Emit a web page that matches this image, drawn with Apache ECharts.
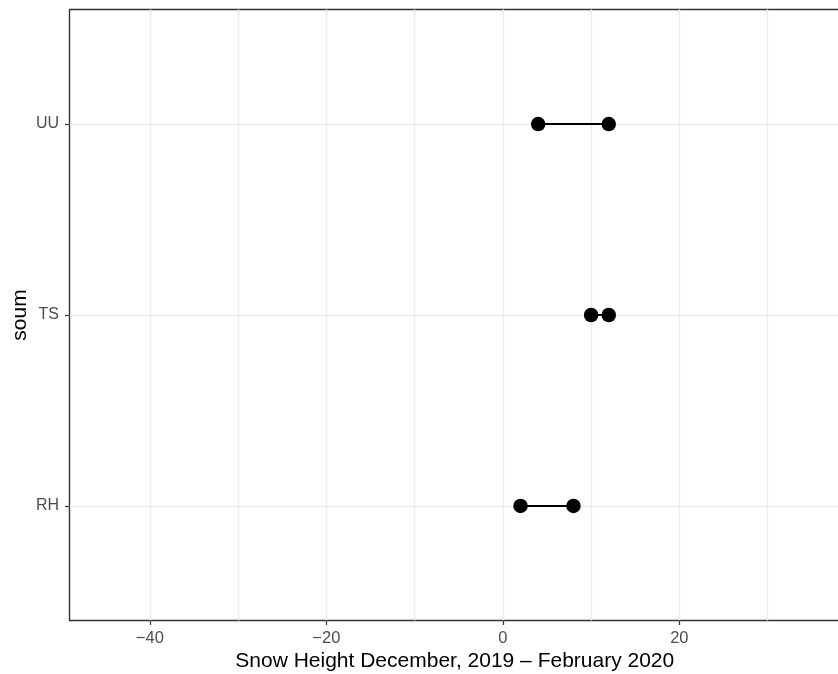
<!DOCTYPE html>
<html>
<head>
<meta charset="utf-8">
<script src="https://cdn.jsdelivr.net/npm/echarts@6/dist/echarts.min.js"></script>
<style>
  html, body { margin: 0; padding: 0; background: #fff; }
  #chart { width: 838px; height: 674px; }
</style>
</head>
<body>
<div id="chart"></div>
<script>
// Snow height range per soum (cm), December 2019 – February 2020
const soums = ['RH', 'TS', 'UU'];
const fromValues = [2, 10, 4];
const toValues = [8, 12, 12];

// Axis ticks
const xMajorTicks = [-40, -20, 0, 20];
const xMinorTicks = [-30, -10, 10, 30];
const yTicks = [1, 2, 3];

const minus = v => String(v).replace('-', '\u2212');
const gridColor = '#ebebeb';
const fontFamily = '"Liberation Sans", Arial, Helvetica, sans-serif';

// One segment per soum, joining its two values
const segmentSeries = soums.map((name, i) => ({
  type: 'line',
  name: name,
  xAxisIndex: 0,
  data: [[fromValues[i], i + 1], [toValues[i], i + 1]],
  symbol: 'none',
  lineStyle: { color: '#000', width: 2 },
  silent: true,
  z: 3
}));

const pointData = [];
soums.forEach((name, i) => {
  pointData.push([fromValues[i], i + 1]);
  pointData.push([toValues[i], i + 1]);
});

const chart = echarts.init(document.getElementById('chart'), null, { renderer: 'canvas' });
chart.setOption({
  animation: false,
  backgroundColor: '#fff',
  grid: {
    left: 69.5, top: 9.5, bottom: 53.5, right: -2,
    show: true, borderColor: '#333333', borderWidth: 1.4,
    containLabel: false,
    outerBoundsMode: 'none'
  },
  xAxis: [{
    type: 'value', min: -49.1, max: 38.2,
    name: 'Snow Height December, 2019 \u2013 February 2020',
    nameLocation: 'middle', nameGap: 30.5, nameMoveOverlap: false,
    nameTextStyle: { color: '#000', fontSize: 21, fontFamily: fontFamily },
    axisLine: { show: false, onZero: false },
    axisTick: { show: true, length: 4.5, customValues: xMajorTicks, lineStyle: { color: '#333333', width: 1.2 } },
    axisLabel: { customValues: xMajorTicks, formatter: v => minus(v), color: '#4d4d4d', fontSize: 16.5, margin: 9, fontFamily: fontFamily },
    splitLine: { show: true, lineStyle: { color: gridColor, width: 1.4 } }
  }, {
    type: 'value', min: -49.1, max: 38.2,
    axisLine: { show: false, onZero: false },
    axisTick: { show: false, customValues: xMinorTicks },
    axisLabel: { show: false, customValues: xMinorTicks },
    splitLine: { show: true, lineStyle: { color: gridColor, width: 1.4 } }
  }],
  yAxis: {
    type: 'value', min: 0.4, max: 3.6,
    name: 'soum', nameLocation: 'middle', nameGap: 39, nameRotate: 90, nameMoveOverlap: false,
    nameTextStyle: { color: '#000', fontSize: 21, fontFamily: fontFamily },
    axisLine: { show: false, onZero: false },
    axisTick: { show: true, length: 4.5, customValues: yTicks, lineStyle: { color: '#333333', width: 1.2 } },
    axisLabel: { customValues: yTicks, formatter: v => soums[Math.round(v) - 1], color: '#4d4d4d', fontSize: 16, margin: 10.5, fontFamily: fontFamily },
    splitLine: { show: true, lineStyle: { color: gridColor, width: 1.4 } }
  },
  series: segmentSeries.concat([{
    type: 'scatter',
    name: 'values',
    data: pointData,
    symbol: 'circle',
    symbolSize: 14.5,
    itemStyle: { color: '#000', opacity: 1 },
    silent: true,
    z: 4
  }])
});
</script>
</body>
</html>
